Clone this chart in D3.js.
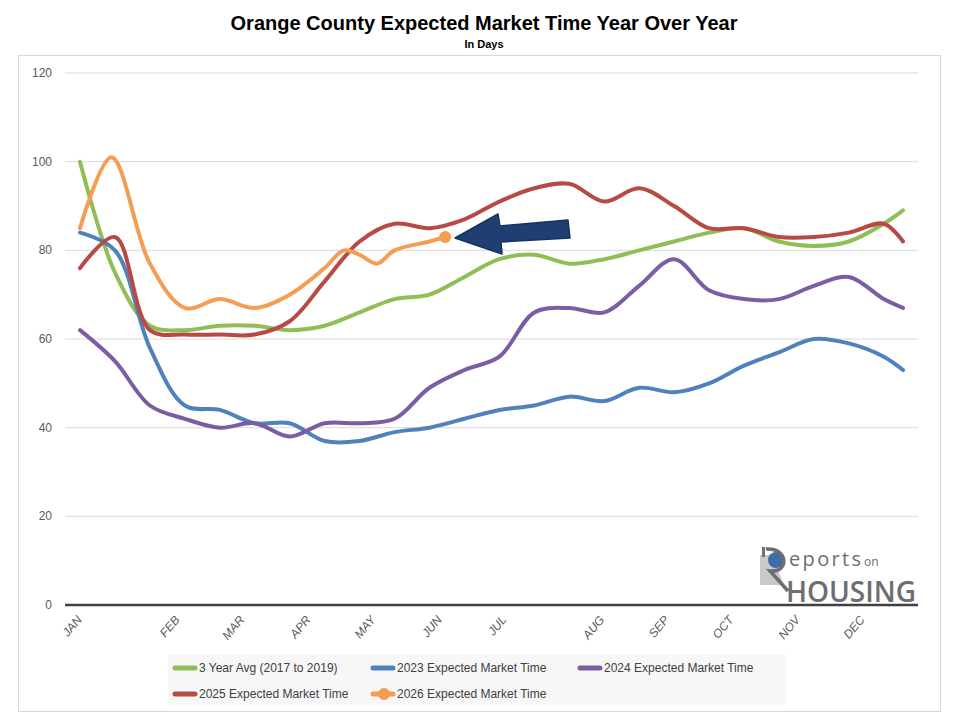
<!DOCTYPE html>
<html><head><meta charset="utf-8">
<script src="https://cdn.jsdelivr.net/npm/d3@7"></script>
<style>
body{margin:0;background:#fff;font-family:"Liberation Sans",Arial,sans-serif}
.grid line{stroke:#d9d9d9}
</style></head><body>
<script>
const W = 964, H = 722

// Data (x in weeks from Jan 1)
const months = ['JAN','FEB','MAR','APR','MAY','JUN','JUL','AUG','SEP','OCT','NOV','DEC']
const monthWeeks = [-0.2, 5.4, 9.1, 12.9, 16.6, 20.4, 24.1, 29.7, 33.4, 37.1, 40.9, 44.6]
const yTicks = [0, 20, 40, 60, 80, 100, 120]
const weeks = [0,2,4,6,8,10,12,14,16,18,20,22,24,26,28,30,32,34,36,38,40,42,44,46,47.1]
const avg3 = [100,75,63,62,63,63,62,63,66,69,70,74,78,79,77,78,80,82,84,85,82,81,82,86,89]
const y2023 = [84,80,58,45,44,41,41,37,37,39,40,42,44,45,47,46,49,48,50,54,57,60,59,56,53]
const y2024 = [62,55,45,42,40,41,38,41,41,42,49,53,56,66,67,66,72,78,71,69,69,72,74,69,67]
const y2025 = [76,83,62,61,61,61,64,73,82,86,85,87,91,94,95,91,94,90,85,85,83,83,84,86,82]
const weeks2026 = [0,1.8,4,6,8,10,12,14,15.1,16,17,18,20,20.9]
const y2026 = [85,101,77,67,69,67,70,76,80,79,77,80,82,83]

const series = [
  {name:'3 Year Avg (2017 to 2019)', color:'#8fbd56', x:weeks, y:avg3},
  {name:'2023 Expected Market Time', color:'#4f81bd', x:weeks, y:y2023},
  {name:'2024 Expected Market Time', color:'#7c5ca3', x:weeks, y:y2024},
  {name:'2025 Expected Market Time', color:'#b84a45', x:weeks, y:y2025},
  {name:'2026 Expected Market Time', color:'#f59d52', x:weeks2026, y:y2026, dot:true}
]

const svg = d3.select('body').append('svg').attr('width', W).attr('height', H)

svg.append('rect').attr('x', 18.5).attr('y', 55.5).attr('width', 922).attr('height', 656)
  .attr('fill', '#fff').attr('stroke', '#d9d9d9')

svg.append('text').attr('x', 484).attr('y', 30).attr('text-anchor', 'middle')
  .attr('font-size', 20).attr('font-weight', 'bold').text('Orange County Expected Market Time Year Over Year')
svg.append('text').attr('x', 484).attr('y', 48).attr('text-anchor', 'middle')
  .attr('font-size', 11).attr('font-weight', 'bold').text('In Days')

const x = d3.scaleLinear().domain([0, 47.1]).range([80, 903])
const y = d3.scaleLinear().domain([0, 120]).range([605, 73])

// Gridlines
svg.append('g').attr('class', 'grid').selectAll('line')
  .data(yTicks.slice(1)).enter().append('line')
  .attr('x1', 65).attr('x2', 918).attr('y1', d => y(d)).attr('y2', d => y(d))

svg.append('g').selectAll('text')
  .data(yTicks).enter().append('text')
  .attr('x', 52).attr('y', d => y(d) + 4).attr('text-anchor', 'end')
  .attr('font-size', 12).attr('fill', '#595959').text(d => d)

svg.append('line').attr('x1', 65).attr('x2', 918).attr('y1', y(0)).attr('y2', y(0))
  .attr('stroke', '#404040').attr('stroke-width', 2.5)

svg.append('g').selectAll('text').data(months).enter().append('text')
  .attr('transform', (d, i) => `translate(${x(monthWeeks[i]) + 6},${620}) rotate(-50)`)
  .attr('text-anchor', 'end').attr('font-size', 12).attr('font-style', 'italic')
  .attr('fill', '#595959').text(d => d)

// Lines
const line = d3.line().x(d => x(d[0])).y(d => y(d[1])).curve(d3.curveCatmullRom.alpha(0.5))
series.forEach(s => {
  const pts = s.x.map((w, i) => [w, s.y[i]])
  svg.append('path').datum(pts).attr('d', line).attr('fill', 'none')
    .attr('stroke', s.color).attr('stroke-width', 4).attr('stroke-linecap', 'round')
  if (s.dot) {
    const last = pts[pts.length - 1]
    svg.append('circle').attr('cx', x(last[0])).attr('cy', y(last[1])).attr('r', 6).attr('fill', s.color)
  }
})

// Arrow annotation
svg.append('path')
  .attr('d', 'M568,220 L500,226 L498,214 L455,238 L502,254 L501,242 L570,238 Z')
  .attr('fill', '#1f3f73').attr('stroke', '#16335f').attr('stroke-width', 1.5).attr('stroke-linejoin', 'round')

// Logo
const logo = svg.append('g').attr('transform', 'translate(758,545)')
logo.append('path').attr('d', 'M2,10 L14,10 L26,40 L2,40 Z').attr('fill', '#c9c9c9')
logo.append('rect').attr('x', 4).attr('y', 2).attr('width', 3).attr('height', 10).attr('fill', '#6d6e71')
logo.append('circle').attr('cx', 18).attr('cy', 15).attr('r', 8).attr('fill', '#3e6ea8')
logo.append('path').attr('d', 'M8,4 C30,2 32,28 12,26 L30,46').attr('fill', 'none')
  .attr('stroke', '#6d6e71').attr('stroke-width', 3.5)
logo.append('text').attr('x', 31).attr('y', 21).attr('font-size', 20).attr('fill', '#6d6e71')
  .attr('font-family', 'Open Sans, sans-serif').attr('textLength', 72).text('eports')
logo.append('text').attr('x', 106).attr('y', 21).attr('font-size', 12).attr('fill', '#6d6e71')
  .attr('font-family', 'Open Sans, sans-serif').text('on')
logo.append('text').attr('x', 28).attr('y', 57).attr('font-size', 28).attr('fill', '#6d6e71')
  .attr('font-family', 'Open Sans, sans-serif').attr('font-weight', 600)
  .attr('textLength', 130).attr('lengthAdjust', 'spacingAndGlyphs').text('HOUSING')

// Legend
svg.append('rect').attr('x', 168).attr('y', 655).attr('width', 618).attr('height', 50).attr('fill', '#f7f7f7')
const legPos = [[175,668],[373,668],[580,668],[175,694],[373,694]]
series.forEach((s, i) => {
  const g = svg.append('g').attr('transform', `translate(${legPos[i][0]},${legPos[i][1]})`)
  g.append('line').attr('x1', 0).attr('x2', 20).attr('stroke', s.color).attr('stroke-width', 5).attr('stroke-linecap', 'round')
  if (s.dot) g.append('circle').attr('cx', 11).attr('r', 6).attr('fill', s.color)
  g.append('text').attr('x', 24).attr('y', 4).attr('font-size', 12).attr('fill', '#404040').text(s.name)
})
</script>
</body></html>
